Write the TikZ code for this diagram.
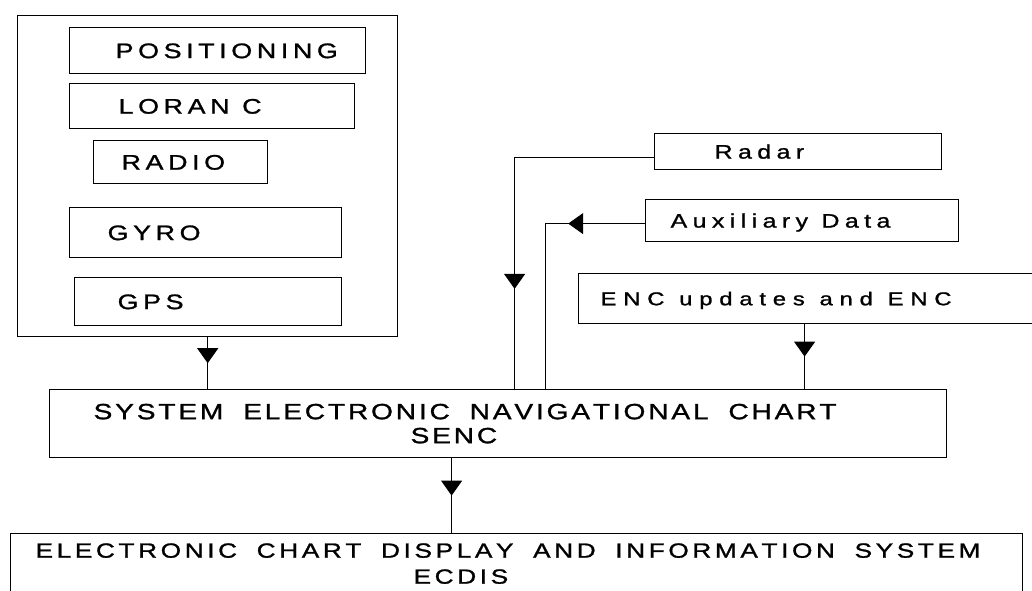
\documentclass[tikz,border=0pt]{standalone}
\usepackage{fontspec}
\usetikzlibrary{arrows.meta, decorations.markings}
\newfontfamily\widesans[FakeStretch=1.28, FakeBold=1.2]{Liberation Sans}
% letter spacing by hand: \lsk after each letter, \lsw between words
\ExplSyntaxOn
\NewDocumentCommand{\spaceout}{m}
 {
  \seq_set_split:Nnn \l_tmpa_seq { ~ } {#1}
  \seq_map_indexed_inline:Nn \l_tmpa_seq
   {
    \int_compare:nT { ##1 > 1 } { \hspace*{\lsw} }
    \tl_map_inline:nn {##2} { ####1 \kern \lsk \relax }
   }
 }
\ExplSyntaxOff
\tikzset{
  unitfont/.style={font=\widesans\fontsize{21}{24}\selectfont\def\lsk{4.6pt}\def\lsw{8pt}},
  inputfont/.style={font=\widesans\fontsize{19.5}{23}\selectfont\def\lsk{5.4pt}\def\lsw{8pt}},
  encfont/.style={font=\widesans\fontsize{18.6}{22}\selectfont\def\lsk{6.8pt}\def\lsw{8pt}},
  sencfont/.style={font=\widesans\fontsize{22}{24}\selectfont\def\lsk{2.8pt}\def\lsw{17pt}},
  ecdisfont/.style={font=\widesans\fontsize{20.5}{26}\selectfont\def\lsk{3.6pt}\def\lsw{16pt}},
  box/.style={draw=black, line width=1.2pt, rectangle, inner xsep=0pt, inner ysep=0pt, align=left, anchor=north west},
  groupbox/.style={box, line width=1.4pt},
  unitbox/.style={box, unitfont, text height=15pt, text depth=0pt},
  inputbox/.style={box, inputfont, text height=14pt, text depth=0pt},
  encbox/.style={box, encfont, text height=13.3pt, text depth=0pt},
  sencbox/.style={box, sencfont},
  ecdisbox/.style={box, ecdisfont},
  flow/.style={draw=black, line width=1.1pt},
  midarrow/.style={postaction={decorate, decoration={markings, mark=at position #1 with {\arrow{Triangle[length=15pt,width=21pt]}}}}},
  midarrow/.default=0.5
}

\begin{document}
\begin{tikzpicture}[x=1pt,y=1pt]
\useasboundingbox (0,0) rectangle (1032,590);
\clip (0,0) rectangle (1032,590);

% positioning sensors
\node[groupbox, minimum width=380pt, minimum height=321pt] (sensors) at (17,575) {};
\node[unitbox, text width=296pt, minimum height=46pt] (positioning) at (69,563) {\hspace*{46pt}\spaceout{POSITIONING}};
\node[unitbox, text width=285pt, minimum height=45pt] (loran) at (69,507) {\hspace*{49pt}\spaceout{LORAN C}};
\node[unitbox, text width=174pt, minimum height=43pt] (radio) at (93,450) {\hspace*{28pt}\spaceout{RADIO}};
\node[unitbox, text width=272pt, minimum height=50pt] (gyro) at (69,383) {\hspace*{38pt}\spaceout{GYRO}};
\node[unitbox, text width=267pt, minimum height=48pt] (gps) at (74,313) {\hspace*{43pt}\spaceout{GPS}};

% other inputs
\node[inputbox, text width=287pt, minimum height=36pt] (radar) at (654,457) {\hspace*{60pt}\spaceout{Radar}};
\node[inputbox, text width=313pt, minimum height=42pt] (aux) at (645,391) {\hspace*{25pt}\spaceout{Auxiliary Data}};
\node[encbox, text width=470pt, minimum height=50pt] (enc) at (578,317) {\hspace*{22pt}\spaceout{ENC updates and ENC}};

% chart system and display
\node[sencbox, text width=897pt, minimum height=68pt] (senc) at (49,201)
  {\hspace*{44pt}\spaceout{SYSTEM ELECTRONIC NAVIGATIONAL CHART}\\\hspace*{361pt}\spaceout{SENC}};
\node[ecdisbox, text width=1012pt, minimum height=60pt] (ecdis) at (10,57)
  {\hspace*{25pt}\spaceout{ELECTRONIC CHART DISPLAY AND INFORMATION SYSTEM}\\\hspace*{403pt}\spaceout{ECDIS}};

\draw[flow, midarrow] (sensors.south) -- (sensors.south |- senc.north);
\draw[flow, midarrow=0.73] ([yshift=-6pt]radar.west) -| ([xshift=16.5pt]senc.north);
\draw[flow, midarrow=0.29] ([yshift=-3pt]aux.west) -| ([xshift=47.5pt]senc.north);
\draw[flow, midarrow] ([xshift=-9pt]enc.south) -- ([xshift=-9pt]enc.south |- senc.north);
\draw[flow, midarrow] ([xshift=-46.5pt]senc.south) -- ([xshift=-46.5pt]senc.south |- ecdis.north);

\end{tikzpicture}
\end{document}
